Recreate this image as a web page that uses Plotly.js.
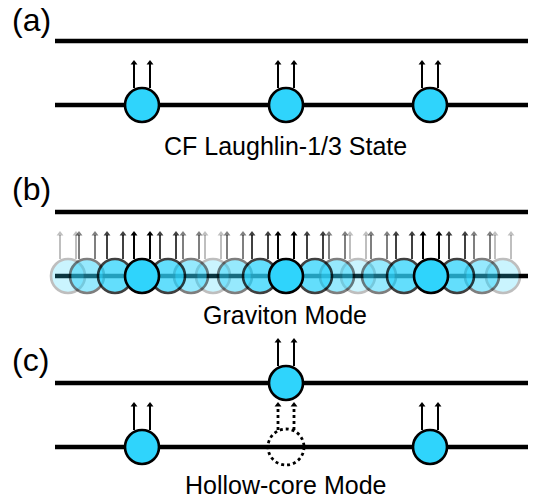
<!DOCTYPE html>
<html><head><meta charset="utf-8">
<script src="https://cdn.plot.ly/plotly-3.0.1.min.js"></script>
<style>html,body{margin:0;padding:0;background:#fff}#chart{width:536px;height:503px}</style>
</head><body><div id="chart"></div>
<script>
// ---- data ----
// Panel (a): CF Laughlin-1/3 state, particle positions on the lower level
const laughlinX = [142, 286, 430];
// Panel (b): graviton mode, smeared particle positions and their weights
const gravitonX = [68, 87, 115, 142, 168, 191, 213, 235, 260, 286, 315, 337, 358, 379, 404, 431, 457, 482, 503];
const gravitonAlpha = [0.25, 0.5, 0.75, 1, 0.75, 0.5, 0.25, 0.5, 0.75, 1, 0.75, 0.5, 0.25, 0.5, 0.75, 1, 0.75, 0.5, 0.25];
// Panel (c): hollow-core mode
const hollowLowerX = [142, 430];
const hollowUpperX = [286];
const hollowVacancyX = [286];
const panelLabels = ['(a)', '(b)', '(c)'];
const captions = ['CF Laughlin-1/3 State', 'Graviton Mode', 'Hollow-core Mode'];

// ---- geometry / style ----
const levels = {a: [41, 105], b: [212, 276], c: [383, 447]};
const lineX = [55, 528];
const R = 18, DX = 8, ALEN = 27, HEAD = 6;
const CYAN = '#2fd4fc';
const FONT = 'Arial, "Liberation Sans", sans-serif';

const traces = [];
const shapes = [];

// horizontal levels
function levelTrace(ys) {
  const x = [], y = [];
  ys.forEach(v => { x.push(lineX[0], lineX[1], null); y.push(v, v, null); });
  return {type: 'scatter', mode: 'lines', x, y, hoverinfo: 'skip',
          line: {color: '#000', width: 4.5}};
}
traces.push(levelTrace([...levels.a, ...levels.b, ...levels.c]));

function circles(xs, y, alphas) {
  return {type: 'scatter', mode: 'markers', x: xs, y: xs.map(() => y), hoverinfo: 'skip',
          marker: {symbol: 'circle', size: 34, color: CYAN, opacity: alphas || 1,
                   line: {color: '#000', width: 2.6}}};
}
function arrows(xs, yc, alpha, dash) {
  const x = [], y = [], hx = [], hy = [];
  const tip = yc - R - ALEN;
  xs.forEach(cx => {
    [cx - DX, cx + DX].forEach(ax => {
      x.push(ax, ax, null); y.push(yc - R + 1, tip + 4, null);
      hx.push(ax); hy.push(tip + HEAD / 2);
    });
  });
  const col = 'rgba(0,0,0,' + alpha + ')';
  return [
    {type: 'scatter', mode: 'lines', x, y, hoverinfo: 'skip',
     line: {color: col, width: dash ? 2.8 : 2, dash: dash || 'solid'}},
    {type: 'scatter', mode: 'markers', x: hx, y: hy, hoverinfo: 'skip',
     marker: {symbol: 'triangle-up', size: HEAD, color: col, line: {width: 0}}}
  ];
}

// (a)
traces.push(circles(laughlinX, levels.a[1]));
traces.push(...arrows(laughlinX, levels.a[1], 1));

// (b) draw lighter first
const order = gravitonX.map((v, i) => i).sort((i, j) => gravitonAlpha[i] - gravitonAlpha[j]);
traces.push(circles(order.map(i => gravitonX[i]), levels.b[1], order.map(i => gravitonAlpha[i])));
[0.25, 0.5, 0.75, 1].forEach(a => {
  const xs = gravitonX.filter((v, i) => gravitonAlpha[i] === a);
  traces.push(...arrows(xs, levels.b[1], a));
});

// (c)
traces.push(circles(hollowLowerX, levels.c[1]));
traces.push(...arrows(hollowLowerX, levels.c[1], 1));
traces.push(circles(hollowUpperX, levels.c[0]));
traces.push(...arrows(hollowUpperX, levels.c[0], 1));
traces.push(...arrows(hollowVacancyX, levels.c[1], 1, 'dot'));
hollowVacancyX.forEach(cx => shapes.push({type: 'circle', xref: 'x', yref: 'y',
  x0: cx - R, x1: cx + R, y0: levels.c[1] - R, y1: levels.c[1] + R,
  line: {color: '#000', width: 2.8, dash: 'dot'}, fillcolor: 'rgba(0,0,0,0)'}));

// texts
const labelY = [20, 189, 360];
const captionY = [146, 315, 485];
const annotations = [];
panelLabels.forEach((t, i) => annotations.push({text: t, x: 10, y: labelY[i], xref: 'x', yref: 'y',
  xanchor: 'left', yanchor: 'middle', showarrow: false, font: {family: FONT, size: 32, color: '#000'}}));
captions.forEach((t, i) => annotations.push({text: t, x: 285, y: captionY[i], xref: 'x', yref: 'y',
  xanchor: 'center', yanchor: 'middle', showarrow: false, font: {family: FONT, size: 25, color: '#000'}}));

Plotly.newPlot('chart', traces, {
  width: 536, height: 503, margin: {l: 0, r: 0, t: 0, b: 0},
  paper_bgcolor: '#fff', plot_bgcolor: '#fff', showlegend: false,
  xaxis: {range: [0, 536], visible: false, fixedrange: true},
  yaxis: {range: [503, 0], visible: false, fixedrange: true},
  shapes, annotations
}, {staticPlot: true});
</script></body></html>
